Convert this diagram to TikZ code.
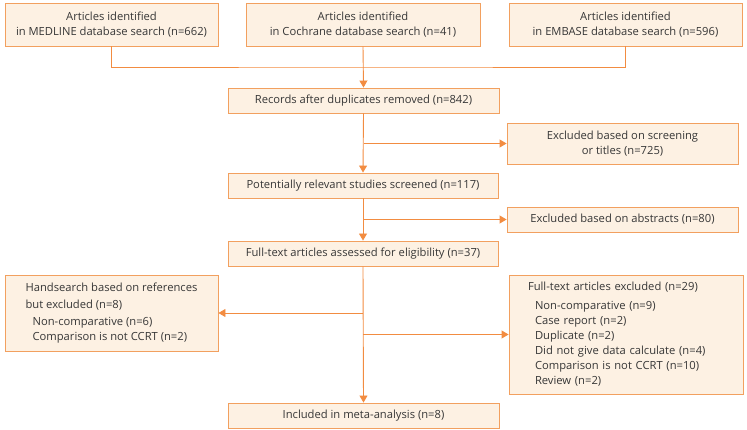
\documentclass[tikz,border=0pt]{standalone}
\usepackage{fontspec}
\setmainfont{Open Sans}
\usetikzlibrary{arrows.meta, positioning, calc}
\definecolor{boxline}{RGB}{242,160,95}
\definecolor{boxfill}{RGB}{253,241,227}
\definecolor{flowline}{RGB}{242,140,65}
\definecolor{boxtext}{RGB}{55,55,55}

\begin{document}
\begin{tikzpicture}[x=1pt, y=-1pt,
  every node/.style={font=\fontsize{11.2}{15}\selectfont, text=boxtext},
  box/.style={draw=boxline, fill=boxfill, line width=0.9pt, inner sep=0pt, align=center},
  arr/.style={draw=flowline, line width=0.9pt, -{Triangle[length=7pt, width=8pt]}},
  line/.style={draw=flowline, line width=0.9pt}]
  \useasboundingbox (0,0) rectangle (747,430);

  % identification
  \node[box, minimum width=213pt, minimum height=43pt] (medline) at (111.5,24.5) {Articles identified\\in MEDLINE database search (n=662)};
  \node[box, minimum width=234pt, minimum height=43pt] (cochrane) at (363,24.5) {Articles identified\\in Cochrane database search (n=41)};
  \node[box, minimum width=233pt, minimum height=43pt] (embase) at (625.5,24.5) {Articles identified\\in EMBASE database search (n=596)};
  \coordinate (join) at (363,67);

  % main column
  \node[box, minimum width=271pt, minimum height=25pt] (records) at (363.5,100.5) {Records after duplicates removed (n=842)};
  \node[box, minimum width=270pt, minimum height=25pt] (screened) at (363,185.5) {Potentially relevant studies screened (n=117)};
  \node[box, minimum width=270pt, minimum height=25pt] (fulltext) at (363,253.5) {Full-text articles assessed for eligibility (n=37)};
  \node[box, minimum width=271pt, minimum height=25pt] (included) at (363.5,415.5) {Included in meta-analysis (n=8)};

  % exclusions
  \node[box, minimum width=231pt, minimum height=41pt] (titles) at (622.5,143.5) {Excluded based on screening\\or titles (n=725)};
  \node[box, minimum width=231pt, minimum height=25pt] (abstracts) at (622.5,219.5) {Excluded based on abstracts (n=80)};
  \node[box, minimum width=213pt, minimum height=76pt, align=left] (hand) at (111.5,313)
    {Handsearch based on references\\[2pt]but excluded (n=8)\\[2pt]
     \hspace*{7pt}Non-comparative (n=6)\\
     \hspace*{7pt}Comparison is not CCRT (n=2)};
  \node[box, minimum width=234pt, minimum height=119pt, text width=196pt, align=left] (ftexcl) at (626,334.5)
    {Full-text articles excluded (n=29)\\[4pt]
     \hspace*{7pt}Non-comparative (n=9)\\
     \hspace*{7pt}Case report (n=2)\\
     \hspace*{7pt}Duplicate (n=2)\\
     \hspace*{7pt}Did not give data calculate (n=4)\\
     \hspace*{7pt}Comparison is not CCRT (n=10)\\
     \hspace*{7pt}Review (n=2)};

  % connectors
  \draw[line] (medline.south) |- (join) -| (embase.south);
  \draw[arr] (cochrane.south) -- (records.north);
  \draw[arr] (records.south) -- (screened.north);
  \draw[arr] (screened.south) -- (fulltext.north);
  \draw[arr] (fulltext.south) -- (included.north);
  \draw[arr] (records.south |- titles.west) -- (titles.west);
  \draw[arr] (screened.south |- abstracts.west) -- (abstracts.west);
  \draw[arr] (fulltext.south |- hand.east) -- (hand.east);
  \draw[arr] (fulltext.south |- ftexcl.west) -- (ftexcl.west);
\end{tikzpicture}
\end{document}
